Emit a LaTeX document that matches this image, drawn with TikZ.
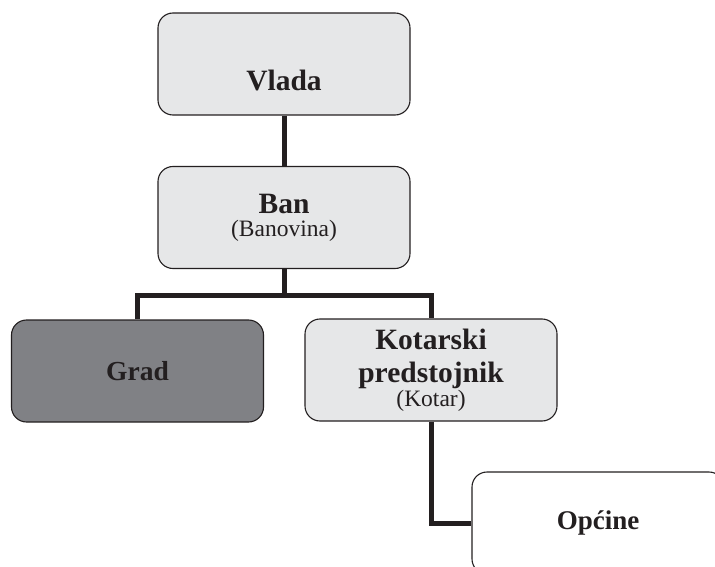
\documentclass[tikz,border=0pt]{standalone}
\usepackage{fontspec}
\setmainfont{Liberation Serif}
\definecolor{boxgray}{HTML}{E6E7E8}
\definecolor{darkgray}{HTML}{808185}
\definecolor{ink}{HTML}{231F20}
\begin{document}
\begin{tikzpicture}[x=1pt,y=-1pt,
	box/.style={draw=ink,line width=1.1pt,rounded corners=15pt,fill=boxgray,
		minimum width=252pt,minimum height=102pt,align=center,text=ink,
		font=\bfseries\fontsize{29.5}{33}\selectfont},
	link/.style={draw=ink,line width=5pt}]
	\clip (0,0) rectangle (715,567);
	\node[box,label={[text=ink,font=\bfseries\fontsize{29.5}{33}\selectfont,yshift=-16pt]center:Vlada}] (vlada) at (284,64) {};
	\node[box] (ban) at (284,217.5) {Ban\\[-10pt]{\mdseries\fontsize{23.5}{24}\selectfont (Banovina)}};
	\node[box,fill=darkgray,font=\bfseries\fontsize{27.5}{30}\selectfont] (grad) at (137.5,371) {Grad};
	\node[box] (kotar) at (431,370) {Kotarski\\predstojnik\\[-9pt]{\mdseries\fontsize{23.5}{24}\selectfont (Kotar)}};
	\node[box,fill=white,font=\bfseries\fontsize{27}{30}\selectfont] (opcine) at (598,523) {Općine};
	\coordinate (split) at (284,295);
	\draw[link] (vlada) -- (ban);
	\draw[link] (ban) -- (split);
	\draw[link] (grad.north) |- (split) -| (kotar.north);
	\draw[link] (kotar.south) |- (opcine.west);
\end{tikzpicture}
\end{document}
